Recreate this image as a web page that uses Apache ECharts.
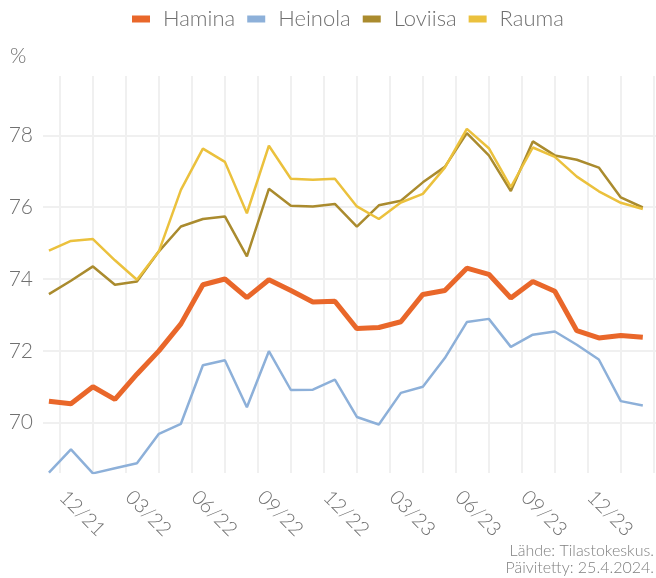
<!DOCTYPE html>
<html>
<head>
<meta charset="utf-8">
<script src="https://cdn.jsdelivr.net/npm/echarts@6/dist/echarts.min.js"></script>
<style>
  html, body { margin: 0; padding: 0; background: #fff; }
  #chart { width: 656px; height: 578px; }
</style>
</head>
<body>
<div id="chart"></div>
<script>
// monthly values, 11/21 .. 02/24
const months = ['11/21', '12/21', '01/22', '02/22', '03/22', '04/22', '05/22', '06/22', '07/22', '08/22',
    '09/22', '10/22', '11/22', '12/22', '01/23', '02/23', '03/23', '04/23', '05/23', '06/23',
    '07/23', '08/23', '09/23', '10/23', '11/23', '12/23', '01/24', '02/24'];
const tickLabels = ['12/21', '03/22', '06/22', '09/22', '12/22', '03/23', '06/23', '09/23', '12/23'];

const hamina = [70.60, 70.53, 71.00, 70.65, 71.35, 72.00, 72.75, 73.84, 74.00, 73.48, 73.98, 73.68, 73.36, 73.38,
    72.62, 72.65, 72.81, 73.57, 73.68, 74.30, 74.13, 73.47, 73.93, 73.66, 72.56, 72.36, 72.43, 72.38];
const heinola = [68.61, 69.26, 68.59, 68.73, 68.87, 69.69, 69.97, 71.60, 71.74, 70.43, 71.99, 70.91, 70.92, 71.20,
    70.16, 69.95, 70.83, 71.00, 71.80, 72.80, 72.89, 72.11, 72.45, 72.54, 72.17, 71.76, 70.60, 70.48];
const loviisa = [73.58, 73.95, 74.35, 73.84, 73.93, 74.77, 75.46, 75.67, 75.74, 74.63, 76.51, 76.04, 76.02, 76.09,
    75.46, 76.05, 76.18, 76.69, 77.12, 78.06, 77.44, 76.45, 77.83, 77.44, 77.32, 77.10, 76.27, 75.99];
const rauma = [74.79, 75.06, 75.11, 74.52, 73.98, 74.77, 76.48, 77.63, 77.26, 75.83, 77.71, 76.79, 76.76, 76.79,
    76.02, 75.67, 76.13, 76.37, 77.10, 78.18, 77.64, 76.56, 77.66, 77.40, 76.85, 76.44, 76.12, 75.95];

const FONT = 'Lato, "Open Sans", sans-serif';
const TEXT = '#707070';
const GRID = '#f0f0f0';

// x = month number (first month = 1), points sit mid-month so month starts fall on x.5
function toPoints(values) {
    return values.map((v, i) => [i + 1, v]);
}

function xLabel(v) {
    const k = (v - 1.5) / 3;
    if (Math.abs(k - Math.round(k)) > 1e-6) return '';
    return tickLabels[Math.round(k)] || '';
}

const chart = echarts.init(document.getElementById('chart'), null, { renderer: 'canvas' });

chart.setOption({
    animation: false,
    color: ['#e9672a', '#8db0d9', '#aa8b2e', '#ebc13d'],
    textStyle: { fontFamily: FONT },
    legend: {
        top: 8,
        left: 132,
        padding: 0,
        itemWidth: 18,
        itemHeight: 7,
        itemGap: 12,
        icon: 'rect',
        textStyle: { fontSize: 22, fontWeight: 300, color: TEXT, fontFamily: FONT, padding: [0, 0, 0, 8] },
        data: ['Hamina', 'Heinola', 'Loviisa', 'Rauma']
    },
    title: {
        text: '%',
        left: 10,
        top: 46,
        padding: 0,
        textStyle: { fontSize: 21, fontWeight: 300, color: TEXT, fontFamily: FONT }
    },
    graphic: [{
        type: 'text',
        right: 2,
        bottom: 2,
        style: {
            text: 'Lähde: Tilastokeskus.\nPäivitetty: 25.4.2024.',
            textAlign: 'right',
            font: '300 16px ' + FONT,
            lineHeight: 17,
            fill: '#808080'
        }
    }],
    grid: { left: 43, right: 0, top: 76, bottom: 105, outerBoundsMode: 'none' },
    xAxis: {
        type: 'value',
        min: 0.73,
        max: 28.6,
        minInterval: 1.5,
        maxInterval: 1.5,
        axisLine: { show: false },
        axisTick: { show: false },
        splitLine: { show: true, showMinLine: false, showMaxLine: false, lineStyle: { color: GRID, width: 2 } },
        axisLabel: {
            rotate: -45,
            margin: 18,
            fontSize: 20,
            fontWeight: 300,
            color: TEXT,
            fontFamily: FONT,
            padding: [0, 0, 0, 4],
            showMinLabel: false,
            showMaxLabel: false,
            formatter: xLabel
        }
    },
    yAxis: {
        type: 'value',
        min: 68.6,
        max: 79.65,
        minInterval: 2,
        maxInterval: 2,
        axisLine: { show: false },
        axisTick: { show: false },
        splitLine: { show: true, showMinLine: false, showMaxLine: false, lineStyle: { color: GRID, width: 2 } },
        axisLabel: {
            margin: 10,
            fontSize: 21,
            fontWeight: 300,
            color: TEXT,
            fontFamily: FONT,
            showMinLabel: false,
            showMaxLabel: false
        }
    },
    series: [
        { name: 'Hamina', type: 'line', data: toPoints(hamina), showSymbol: false, lineStyle: { width: 5 }, z: 5 },
        { name: 'Heinola', type: 'line', data: toPoints(heinola), showSymbol: false, lineStyle: { width: 2.5 } },
        { name: 'Loviisa', type: 'line', data: toPoints(loviisa), showSymbol: false, lineStyle: { width: 2.5 } },
        { name: 'Rauma', type: 'line', data: toPoints(rauma), showSymbol: false, lineStyle: { width: 2.5 } }
    ]
});
</script>
</body>
</html>
